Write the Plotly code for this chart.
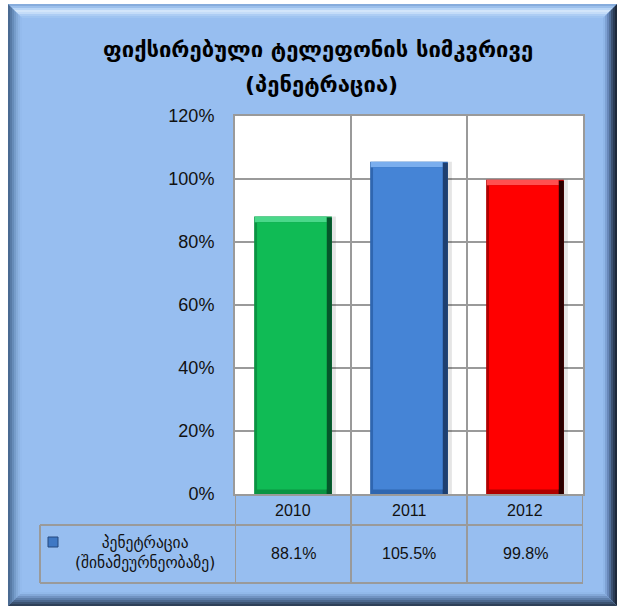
import plotly.graph_objects as go

# ---------------- data ----------------
categories = ["2010", "2011", "2012"]
values = [0.881, 1.055, 0.998]
value_labels = ["88.1%", "105.5%", "99.8%"]
series_name = "პენეტრაცია<br>(შინამეურნეობაზე)"
title_line1 = "ფიქსირებული ტელეფონის სიმკვრივე"
title_line2 = "(პენეტრაცია)"
bar_main = ["#10BB55", "#4584D6", "#FF0000"]
bar_side = ["#0A9443", "#2F66B0", "#B00000"]
bar_dark = ["#05552A", "#1E3F70", "#2A0000"]
bar_top = ["#4AD88A", "#7AAEEE", "#FF5050"]

W, H = 617, 606
L, R, T, B = 235, 583, 116, 494
PW, PH = R - L, B - T


def xp(px):
    return (px - L) / PW


def yp(py):
    return (B - py) / PH


def P(px, py):
    return f"{xp(px):.5f},{yp(py):.5f}"


FACE = "#97BEF0"
GRID = "#9A9A9A"

shapes = []
x0, y0, x1, y1 = 8, 4, 617, 606
shapes.append(dict(type="path", xref="paper", yref="paper", layer="below",
                   path=f"M{P(x0,y0)} L{P(x1,y0)} L{P(x1,y1)} L{P(x0,y1)} Z",
                   fillcolor=FACE, line=dict(width=0)))
bev = 14
N = 7
w = bev / N
top_c = ["#86ACDC", "#9CC0EC", "#B8D5F6", "#D2E5FA", "#C4DCF8", "#ADCDF4", "#9FC4F1"]
left_c = ["#4A6A92", "#587BA6", "#678CB9", "#769CCA", "#84AAD8", "#8EB4E4", "#94BBED"]
right_c = ["#1E2A3C", "#2B3C55", "#3C5272", "#52709A", "#6888BA", "#7EA2D4", "#8FB6E8"]
bot_c = ["#2E4058", "#3C5372", "#4C688E", "#5E7FAB", "#7193C2", "#83A8D8", "#92B9EA"]
for k in range(N):
    d0, d1 = k * w, (k + 1) * w
    sides = [
        (top_c[k], [(x0 + d0, y0 + d0), (x1 - d0, y0 + d0), (x1 - d1, y0 + d1), (x0 + d1, y0 + d1)]),
        (left_c[k], [(x0 + d0, y0 + d0), (x0 + d1, y0 + d1), (x0 + d1, y1 - d1), (x0 + d0, y1 - d0)]),
        (right_c[k], [(x1 - d0, y0 + d0), (x1 - d0, y1 - d0), (x1 - d1, y1 - d1), (x1 - d1, y0 + d1)]),
        (bot_c[k], [(x0 + d0, y1 - d0), (x1 - d0, y1 - d0), (x1 - d1, y1 - d1), (x0 + d1, y1 - d1)]),
    ]
    for col, pts in sides:
        path = "M" + " L".join(P(a, b) for a, b in pts) + " Z"
        shapes.append(dict(type="path", xref="paper", yref="paper", layer="below",
                           path=path, fillcolor=col, line=dict(width=0)))
shapes.append(dict(type="rect", xref="paper", yref="paper", layer="below",
                   x0=0, x1=1, y0=0, y1=1, fillcolor="white", line=dict(width=0)))

line_style = dict(color=GRID, width=2)
for xv in [-0.5, 0.5, 1.5, 2.5]:
    shapes.append(dict(type="line", xref="x", yref="paper", x0=xv, x1=xv,
                       y0=yp(494), y1=yp(583), line=line_style, layer="above"))
shapes.append(dict(type="line", xref="paper", yref="paper", x0=xp(40), x1=xp(40),
                   y0=yp(525), y1=yp(583), line=line_style))
for py in [525, 583]:
    shapes.append(dict(type="line", xref="paper", yref="paper", x0=xp(40), x1=1,
                       y0=yp(py), y1=yp(py), line=line_style))
shapes.append(dict(type="rect", xref="paper", yref="paper", x0=xp(48), x1=xp(58),
                   y0=yp(537), y1=yp(547), fillcolor="#3F78C4",
                   line=dict(color="#25497E", width=1)))

xs = list(range(len(categories)))
BW = 0.67
fig = go.Figure()
# soft shadow
fig.add_trace(go.Bar(x=xs, y=values, width=BW, offset=-BW / 2 + 0.035,
                     marker=dict(color="rgba(0,0,0,0.10)", line=dict(width=0)),
                     showlegend=False, hoverinfo="skip"))
# body (left / bottom bevel)
fig.add_trace(go.Bar(x=xs, y=values, width=BW, offset=-BW / 2,
                     marker=dict(color=bar_side, line=dict(width=0)),
                     showlegend=False, hoverinfo="skip"))
# right dark bevel
fig.add_trace(go.Bar(x=xs, y=[v - 0.004 for v in values], width=0.045, offset=BW / 2 - 0.045,
                     marker=dict(color=bar_dark, line=dict(width=0)),
                     showlegend=False, hoverinfo="skip"))
# top light bevel
fig.add_trace(go.Bar(x=xs, y=[0.018] * 3, base=[v - 0.018 for v in values], width=BW - 0.05,
                     offset=-BW / 2 + 0.005,
                     marker=dict(color=bar_top, line=dict(width=0)),
                     showlegend=False, hoverinfo="skip"))
# main face
fig.add_trace(go.Bar(x=xs, y=[v - 0.018 - 0.014 for v in values], base=[0.014] * 3,
                     width=BW - 0.07, offset=-BW / 2 + 0.025,
                     marker=dict(color=bar_main, line=dict(width=0)),
                     showlegend=False, hoverinfo="skip"))

annotations = []
for i, c in enumerate(categories):
    annotations.append(dict(x=i, y=yp(510), xref="x", yref="paper", text=c,
                            xanchor="center", yanchor="middle",
                            showarrow=False, font=dict(size=16, color="#111")))
    annotations.append(dict(x=i, y=yp(553), xref="x", yref="paper", text=value_labels[i],
                            xanchor="center", yanchor="middle",
                            showarrow=False, font=dict(size=16, color="#111")))
annotations.append(dict(x=xp(145), y=yp(553), xref="paper", yref="paper", text=series_name,
                        xanchor="center", yanchor="middle",
                        showarrow=False, font=dict(size=15.5, color="#111", family="DejaVu Sans")))
annotations.append(dict(x=xp(318), y=yp(50), xref="paper", yref="paper", text="<b>" + title_line1 + "</b>",
                        xanchor="center", yanchor="middle",
                        showarrow=False, font=dict(size=22, color="#000", family="DejaVu Sans")))
annotations.append(dict(x=xp(321), y=yp(85), xref="paper", yref="paper", text="<b>" + title_line2 + "</b>",
                        xanchor="center", yanchor="middle",
                        showarrow=False, font=dict(size=22, color="#000", family="DejaVu Sans")))

fig.update_layout(
    width=W, height=H,
    margin=dict(l=L, r=W - R, t=T, b=H - B, pad=0),
    paper_bgcolor="white",
    plot_bgcolor="rgba(0,0,0,0)",
    font=dict(family="Liberation Sans", size=16, color="#111"),
    shapes=shapes,
    annotations=annotations,
    barmode="overlay",
    xaxis=dict(range=[-0.5, 2.5], tickvals=[0.5, 1.5], showticklabels=False,
               showgrid=True, gridcolor=GRID, gridwidth=2, zeroline=False,
               showline=True, mirror=True, linecolor=GRID, linewidth=2, ticks=""),
    yaxis=dict(range=[0, 1.2], dtick=0.2, tickformat=".0%", showgrid=True,
               gridcolor=GRID, gridwidth=2, zeroline=False, showline=True, mirror=True,
               linecolor=GRID, linewidth=2, ticks="", ticklabelstandoff=15,
               tickfont=dict(size=18, color="#111")),
)

fig.write_html("out.html", config={"displayModeBar": False},
               post_script="document.body.style.margin='0';document.body.style.overflow='hidden';")
